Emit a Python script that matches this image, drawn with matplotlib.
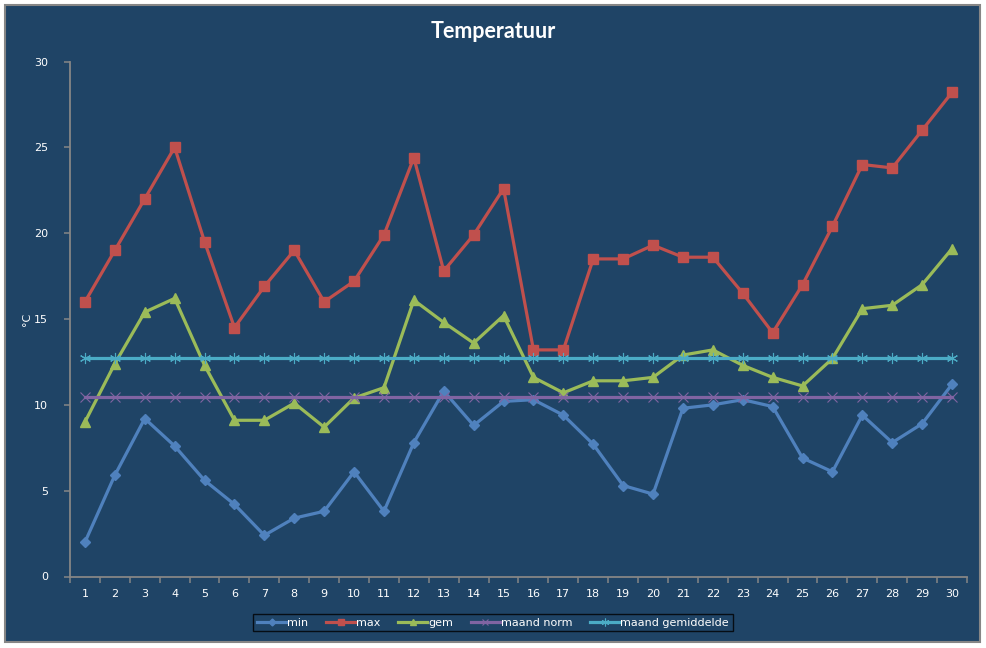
import matplotlib
matplotlib.use("Agg")
import matplotlib.pyplot as plt
from matplotlib.patches import Rectangle
import numpy as np

# data
days = list(range(1, 31))
t_min = [2.0, 5.9, 9.2, 7.6, 5.6, 4.2, 2.4, 3.4, 3.8, 6.1,
         3.8, 7.8, 10.8, 8.8, 10.2, 10.3, 9.4, 7.7, 5.3, 4.8,
         9.8, 10.0, 10.3, 9.9, 6.9, 6.1, 9.4, 7.8, 8.9, 11.2]
t_max = [16.0, 19.0, 22.0, 25.0, 19.5, 14.5, 16.9, 19.0, 16.0, 17.2,
         19.9, 24.4, 17.8, 19.9, 22.6, 13.2, 13.2, 18.5, 18.5, 19.3,
         18.6, 18.6, 16.5, 14.2, 17.0, 20.4, 24.0, 23.8, 26.0, 28.2]
t_gem = [9.0, 12.4, 15.4, 16.2, 12.3, 9.1, 9.1, 10.1, 8.7, 10.4,
         11.0, 16.1, 14.8, 13.6, 15.2, 11.6, 10.7, 11.4, 11.4, 11.6,
         12.9, 13.2, 12.3, 11.6, 11.1, 12.7, 15.6, 15.8, 17.0, 19.1]
norm_val = 10.45
maand_gem_val = 12.7

series_labels = ["min", "max", "gem", "maand norm", "maand gemiddelde"]
colors = ["#4F81BD", "#C0504D", "#9BBB59", "#8064A2", "#4BACC6"]
bg = "#1F4466"
axis_col = "#868686"

W, H = 987, 648
fig = plt.figure(figsize=(W / 100, H / 100), dpi=100)
fig.patch.set_facecolor("white")

# chart area box, kept behind the axes
fig.patches.append(Rectangle((5 / W, 1 - 642 / H), 975 / W, 637 / H,
                             transform=fig.transFigure, facecolor=bg,
                             edgecolor=axis_col, linewidth=1.5, zorder=-10))

ax = fig.add_axes([70 / W, 1 - 576.5 / H, 897 / W, 515 / H])
ax.set_facecolor("none")

lw = 2.3
ax.plot(days, t_min, color=colors[0], lw=lw, marker="D", ms=5, label=series_labels[0])
ax.plot(days, t_max, color=colors[1], lw=lw, marker="s", ms=7, label=series_labels[1])
ax.plot(days, t_gem, color=colors[2], lw=lw, marker="^", ms=6.5, label=series_labels[2])
ax.plot(days, [norm_val] * len(days), color=colors[3], lw=lw, marker="x", ms=7,
        mew=0.8, label=series_labels[3])
ax.plot(days, [maand_gem_val] * len(days), color=colors[4], lw=lw, marker=(6, 2, 0),
        ms=8, mew=0.8, label=series_labels[4])

ax.set_xlim(0.5, 30.5)
ax.set_ylim(0, 30)
ax.set_yticks(range(0, 31, 5))
ax.set_xticks(days)
ax.set_xticks(np.arange(0.5, 31, 1), minor=True)

for s in ["top", "right"]:
    ax.spines[s].set_visible(False)
for s in ["left", "bottom"]:
    ax.spines[s].set_color(axis_col)
    ax.spines[s].set_linewidth(1.3)

ax.tick_params(axis="y", direction="out", length=4, width=1.1, color=axis_col,
               labelcolor="white", labelsize=8, pad=12)
ax.tick_params(axis="x", which="major", length=0, labelcolor="white",
               labelsize=8, pad=9)
ax.tick_params(axis="x", which="minor", direction="out", length=4, width=1.1,
               color=axis_col)

ax.set_ylabel("°C", color="white", fontsize=8, labelpad=1)

fig.text(493 / W, 1 - 32 / H, "Temperatuur", color="white", fontsize=15.5,
         fontweight="bold", family="Lato", ha="center", va="center")

leg = fig.legend(loc="center", bbox_to_anchor=(493 / W, 1 - 622.5 / H), ncol=5,
                 frameon=True, fontsize=8, handlelength=2.6, handletextpad=0.1,
                 columnspacing=1.6, borderpad=0.35, fancybox=False,
                 markerscale=0.7)
leg.get_frame().set_facecolor(bg)
leg.get_frame().set_edgecolor("black")
leg.get_frame().set_linewidth(1.0)
for t in leg.get_texts():
    t.set_color("white")

fig.savefig("out.png", dpi=100, facecolor=fig.get_facecolor())
